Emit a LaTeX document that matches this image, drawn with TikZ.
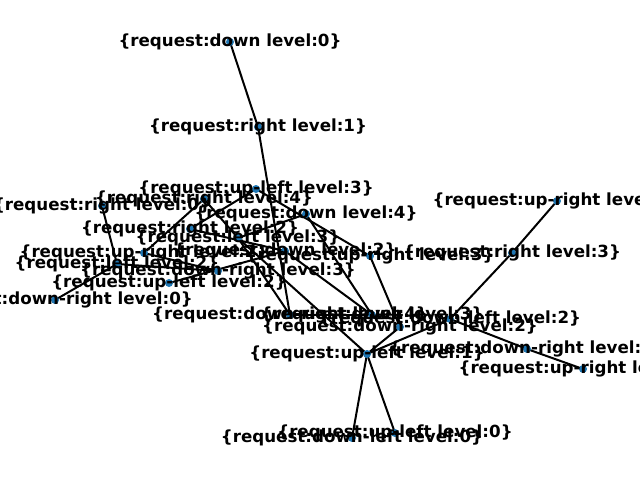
\documentclass[tikz,border=0pt]{standalone}
\usepackage{fontspec}
\setmainfont{DejaVu Sans}
\definecolor{dotblue}{HTML}{1F77B4}
\tikzset{
  state/.style={circle, fill=dotblue, inner sep=0pt, minimum size=8pt},
  tag/.style={font=\fontsize{16.7}{20}\selectfont\bfseries, inner sep=0pt},
  link/.style={line width=2pt, black}
}

\begin{document}
\begin{tikzpicture}[x=1pt, y=-1pt]
  \useasboundingbox (0,0) rectangle (640,480);
  % positions of the states
  \coordinate (dn0) at (230,42);
  \coordinate (rt1) at (258,127);
  \coordinate (ul3) at (256,189);
  \coordinate (rt4) at (204,199);
  \coordinate (rt0) at (102,206);
  \coordinate (dn4) at (306,214);
  \coordinate (rt2) at (190,229);
  \coordinate (lf3) at (238,238);
  \coordinate (ur2) at (144,253);
  \coordinate (dn2) at (285,251);
  \coordinate (ur3) at (370,256);
  \coordinate (rt3) at (512,253);
  \coordinate (lf2) at (117,264);
  \coordinate (dr3) at (218,271);
  \coordinate (ul2) at (169,283);
  \coordinate (dr0) at (55,300);
  \coordinate (dr4) at (290,315);
  \coordinate (dn3) at (372,315);
  \coordinate (dl2) at (450,319);
  \coordinate (dr2) at (400,327);
  \coordinate (ul1) at (367,354);
  \coordinate (dr1) at (527,349);
  \coordinate (ur1) at (583,369);
  \coordinate (ul0) at (395,433);
  \coordinate (dl0) at (352,438);
  \coordinate (ur4) at (557,201);

  % transitions
  \draw[link] (dn0) -- (rt1);
  \draw[link] (rt1) -- (dr4);
  \draw[link] (ul3) -- (ur3);
  \draw[link] (ur3) -- (dr2);
  \draw[link] (ur4) -- (rt3);
  \draw[link] (rt3) -- (dl2);
  \draw[link] (dl2) -- (dr1);
  \draw[link] (dr1) -- (ur1);
  \draw[link] (ul1) -- (dl0);
  \draw[link] (ul1) -- (ul0);
  \draw[link] (ul1) -- (dr2);
  \draw[link] (ul1) -- (dl2);
  \draw[link] (ul1) -- (lf3);
  \draw[link] (dr0) -- (lf2);
  \draw[link] (rt0) -- (lf2);
  \draw[link] (rt4) -- (lf3);
  \draw[link] (ul3) -- (rt2);
  \draw[link] (ur2) -- (rt4);
  \draw[link] (dn4) -- (lf3);
  \draw[link] (dn4) -- (dn3);
  \draw[link] (lf3) -- (dr4);
  \draw[link] (dn2) -- (dn3);
  \draw[link] (lf2) -- (dr3);
  \draw[link] (ul2) -- (dn2);
  \draw[link] (ur2) -- (dr3);
  \draw[link] (rt2) -- (dn2);
  \draw[link] (dr4) -- (dn3);

  % states
  \foreach \s in {dn0,rt1,ul3,rt4,rt0,dn4,rt2,lf3,ur2,dn2,ur3,rt3,lf2,dr3,ul2,
                  dr0,dr4,dn3,dl2,dr2,ul1,dr1,ur1,ul0,dl0,ur4}
    \node[state] (\s-dot) at (\s) {};

  % labels
  \node[tag] at (dn0) {\{request:down level:0\}};
  \node[tag] at (rt1) {\{request:right level:1\}};
  \node[tag] at (ul3) {\{request:up-left level:3\}};
  \node[tag] at (rt4) {\{request:right level:4\}};
  \node[tag] at (rt0) {\{request:right level:0\}};
  \node[tag] at (dn4) {\{request:down level:4\}};
  \node[tag] at (rt2) {\{request:right level:2\}};
  \node[tag] at (lf3) {\{request:left level:3\}};
  \node[tag] at (ur2) {\{request:up-right level:2\}};
  \node[tag] at (dn2) {\{request:down level:2\}};
  \node[tag] at (ur3) {\{request:up-right level:3\}};
  \node[tag] at (rt3) {\{request:right level:3\}};
  \node[tag] at (lf2) {\{request:left level:2\}};
  \node[tag] at (dr3) {\{request:down-right level:3\}};
  \node[tag] at (ul2) {\{request:up-left level:2\}};
  \node[tag] at (dr0) {\{request:down-right level:0\}};
  \node[tag] at (dr4) {\{request:down-right level:4\}};
  \node[tag] at (dn3) {\{request:down level:3\}};
  \node[tag] at (dl2) {\{request:down-left level:2\}};
  \node[tag] at (dr2) {\{request:down-right level:2\}};
  \node[tag] at (ul1) {\{request:up-left level:1\}};
  \node[tag] at (dr1) {\{request:down-right level:1\}};
  \node[tag] at (ur1) {\{request:up-right level:1\}};
  \node[tag] at (ul0) {\{request:up-left level:0\}};
  \node[tag] at (dl0) {\{request:down-left level:0\}};
  \node[tag] at (ur4) {\{request:up-right level:4\}};
\end{tikzpicture}
\end{document}
